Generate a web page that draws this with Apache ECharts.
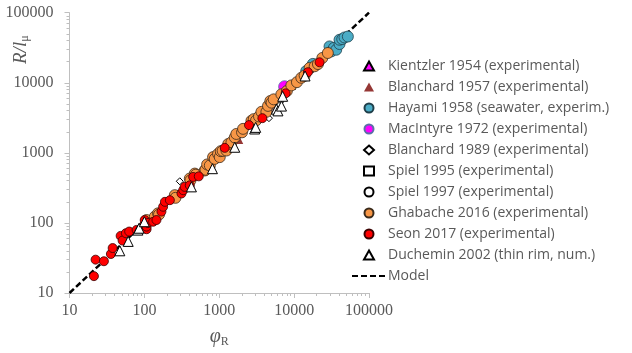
<!DOCTYPE html>
<html>
<head>
<meta charset="utf-8">
<script src="https://cdn.jsdelivr.net/npm/echarts@6/dist/echarts.min.js"></script>
<style>html,body{margin:0;padding:0;background:#fff}#c{width:632px;height:353px}</style>
</head>
<body>
<div id="c"></div>
<script>
// ---- data (phi_R, R/l_mu) ----
var kientzler1954 = [[4500,4700],[9200,9150]];
var blanchard1957 = [[1880,1500],[5600,4300],[12500,11500]];
var hayami1958 = [[14500,14700],[17800,18600],[29700,33000],[31300,28000],[34000,31500],[36500,29600],[40400,35700],[40400,41100],[43900,42000],[47100,44300],[52200,45700]];
var macintyre1972 = [[7460,8790]];
var blanchard1989 = [[297,393],[4610,3126]];
var spiel1995 = [[6400,5800],[13500,12000]];
var spiel1997 = [[5300,5100],[16500,15500]];
var ghabache2016 = [[107,110],[138,123],[152,137],[157,132],[255,249],[260,228],[404,430],[413,405],[471,506],[486,488],[640,560],[655,574],[689,683],[748,660],[827,869],[870,820],[964,968],[1016,869],[1047,1057],[1110,1070],[1247,1079],[1320,1340],[1455,1416],[1610,1660],[1690,1860],[2014,1963],[2080,2200],[2690,2870],[2884,3027],[3100,2900],[3396,3304],[3655,3844],[4260,3844],[4477,4677],[4815,5500],[5000,5200],[5330,5800],[6750,6840],[8000,7620],[9180,9170],[10900,10200],[12470,11780],[13800,12700],[16100,16300],[18800,17200],[20800,18500],[23800,22600],[28200,26600]];
var seon2017 = [[21.2,17.4],[22.3,29.9],[28.8,28.4],[35.7,36],[37.7,43.8],[48.2,65.3],[51.2,56],[56.6,71.3],[62.7,75.3],[78.7,79.5],[99,93.5],[101,110],[107,81.3],[107,88.6],[112,100],[131,104],[145,110],[169,145],[178,170],[188,200],[219,211],[313,263],[330,293],[345,327],[404,344],[448,453],[533,462],[1184,1178],[2497,2489],[3767,3126],[7700,7068],[15280,14160],[21880,19590]];
var duchemin2002 = [[47,40],[60.8,54.5],[82,79],[85,84],[100,104],[425,327],[811,594],[1610,1202],[2970,2190],[3069,2310],[5790,4200],[6080,3970],[6780,4650],[7030,6410],[14000,12500]];
var model = [[10,10],[100000,100000]];
var tickLabels = ['10', '100', '1000', '10000', '100000'];

var gray = '#595959';
var serif = '"Liberation Serif","Times New Roman",serif';
var sans = '"Open Sans",Lato,sans-serif';

var chart = echarts.init(document.getElementById('c'), null, {renderer: 'canvas'});

function sc(name, data, symbol, size, color, border, bw) {
  return {
    type: 'scatter', name: name, data: data, symbol: symbol, symbolSize: size,
    itemStyle: {color: color, borderColor: border, borderWidth: bw, opacity: 1},
    emphasis: {disabled: true}
  };
}

function logAxis(extra) {
  var a = {
    type: 'log', logBase: 10, min: 10, max: 100000,
    axisLine: {show: true, lineStyle: {color: '#BFBFBF', width: 1}},
    axisTick: {show: true, length: 5, inside: false, lineStyle: {color: '#BFBFBF', width: 1}},
    minorTick: {show: true, splitNumber: 9, length: 3, lineStyle: {color: '#BFBFBF', width: 1}},
    splitLine: {show: false}, minorSplitLine: {show: false},
    axisLabel: {fontFamily: serif, fontSize: 16, color: gray,
      formatter: function (v) { return tickLabels[Math.round(Math.log10(v)) - 1]; }}
  };
  return Object.assign(a, extra);
}

var names = ['Kientzler 1954 (experimental)', 'Blanchard 1957 (experimental)', 'Hayami 1958 (seawater, experim.)',
           'MacIntyre 1972 (experimental)', 'Blanchard 1989 (experimental)', 'Spiel 1995 (experimental)',
           'Spiel 1997 (experimental)', 'Ghabache 2016 (experimental)', 'Seon 2017 (experimental)',
           'Duchemin 2002 (thin rim, num.)'];

var xa = logAxis({
  name: '{a|φ}{b|R}', nameLocation: 'middle', nameGap: 33,
  nameTextStyle: {color: gray, rich: {
    a: {fontFamily: serif, fontStyle: 'italic', fontSize: 20, color: gray, lineHeight: 22},
    b: {fontFamily: serif, fontSize: 12, color: gray, padding: [10, 0, 0, 0]}
  }}
});
xa.axisLabel.margin = 10;
var ya = logAxis({});
ya.axisLabel.margin = 16;

chart.setOption({
  animation: false,
  grid: {left: 69.5, right: 263, top: 12.7, bottom: 57.7, containLabel: false},
  xAxis: xa,
  yAxis: ya,
  legend: [{
    orient: 'vertical', left: 363, top: 59, padding: 0, itemWidth: 10, itemHeight: 9, itemGap: 7,
    textStyle: {fontFamily: sans, fontSize: 14, color: gray, lineHeight: 14, padding: [0, 0, 0, 9]},
    selectedMode: false,
    data: names
  }, {
    orient: 'vertical', left: 351, top: 59 + 21 * 10, padding: 0, itemWidth: 34, itemHeight: 9,
    textStyle: {fontFamily: sans, fontSize: 14, color: gray, lineHeight: 14, padding: [0, 0, 0, -3]},
    selectedMode: false,
    itemStyle: {color: 'transparent', borderWidth: 0},
    data: ['Model']
  }],
  graphic: [{
    type: 'text', x: 10, y: 64, rotation: Math.PI / 2,
    style: {
      text: '{a|R/l}{b|μ}',
      rich: {
        a: {fontFamily: serif, fontStyle: 'italic', fontSize: 19, fill: gray, lineHeight: 20},
        b: {fontFamily: serif, fontSize: 12, fill: gray, padding: [9, 0, 0, 0]}
      }
    }
  }],
  series: [
    {type: 'line', name: 'Model', data: model, symbol: 'none', z: 1,
     lineStyle: {color: '#000', width: 2.5, type: [6, 3]}, itemStyle: {color: '#000'}, emphasis: {disabled: true}},
    sc(names[0], kientzler1954, 'triangle', 8, '#FF00FF', '#000', 1),
    sc(names[1], blanchard1957, 'triangle', 7, '#953735', '#953735', 0),
    sc(names[2], hayami1958, 'circle', 11, '#4BACC6', '#1F3F4A', 0.8),
    sc(names[3], macintyre1972, 'circle', 12, '#FF00FF', '#5B6FA8', 0.8),
    sc(names[4], blanchard1989, 'diamond', 7, '#FFFFFF', '#000', 1),
    sc(names[5], spiel1995, 'rect', 7, '#FFFFFF', '#000', 1),
    sc(names[6], spiel1997, 'circle', 8, '#FFFFFF', '#000', 1),
    sc(names[7], ghabache2016, 'circle', 11, '#F79646', '#3A2A1A', 0.8),
    sc(names[8], seon2017, 'circle', 9, '#FF0000', '#3A0000', 0.8),
    sc(names[9], duchemin2002, 'triangle', 10, '#FFFFFF', '#000', 1)
  ]
});
</script>
</body>
</html>
